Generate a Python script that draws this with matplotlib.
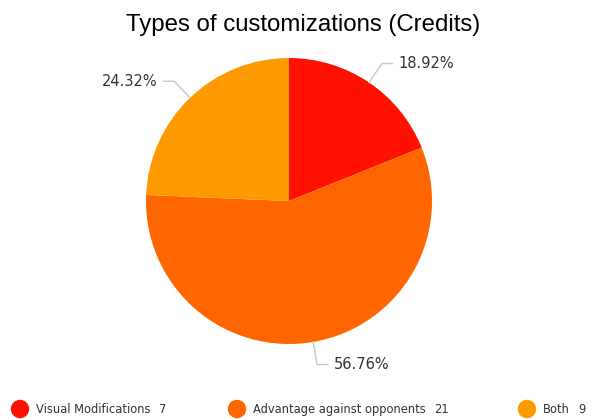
import numpy as np
import matplotlib
matplotlib.use("Agg")
import matplotlib.pyplot as plt
from matplotlib.patches import Circle

# data
labels = ["Visual Modifications", "Advantage against opponents", "Both"]
counts = [7, 21, 9]
colors = ["#ff1100", "#ff6600", "#ff9900"]

W, H = 594, 419
fig = plt.figure(figsize=(W / 100, H / 100), dpi=100)
fig.patch.set_facecolor("white")

# pie axes: center (289, 201) px, radius 143 px
cx, cy, r = 289, 201, 143
ax = fig.add_axes([(cx - r) / W, (H - cy - r) / H, 2 * r / W, 2 * r / H])

wedges, _ = ax.pie(counts, colors=colors, startangle=90, counterclock=False,
                   radius=1, wedgeprops=dict(linewidth=0))
ax.set_xlim(-1, 1)
ax.set_ylim(-1, 1)
ax.set_aspect("equal")
ax.axis("off")

total = sum(counts)
for w, c in zip(wedges, counts):
    ang = np.deg2rad((w.theta1 + w.theta2) / 2)
    x0, y0 = np.cos(ang), np.sin(ang)
    x1, y1 = 1.16 * x0, 1.16 * y0
    side = 1 if x0 >= 0 else -1
    x2 = x1 + side * 0.075
    ax.plot([x0, x1, x2], [y0, y1, y1], color="#c8c8c8", lw=1, clip_on=False)
    ax.text(x2 + side * 0.04, y1, "%.2f%%" % (100 * c / total),
            ha="left" if side > 0 else "right", va="center",
            fontsize=10.5, color="#333333", family="DejaVu Sans")

fig.text(303 / W, 1 - 25 / H, "Types of customizations (Credits)", ha="center", va="center",
         fontsize=17.3, family="Liberation Sans", color="#000000")

# legend in pixel coordinates
lax = fig.add_axes([0, 0, 1, 1])
lax.set_xlim(0, W)
lax.set_ylim(H, 0)
lax.axis("off")
leg_x = [20, 237, 527]
ly = 409
for x, lab, c, col in zip(leg_x, labels, counts, colors):
    lax.add_patch(Circle((x, ly), 8.5, color=col, clip_on=False))
    t = lax.text(x + 16, ly, lab, ha="left", va="center", fontsize=8.3,
                 color="#333333", family="DejaVu Sans")
    fig.canvas.draw()
    bb = t.get_window_extent()
    lax.text(bb.x1 + 8, ly, str(c), ha="left", va="center", fontsize=8.3,
             color="#333333", family="DejaVu Sans")

fig.savefig("out.png", dpi=100)
